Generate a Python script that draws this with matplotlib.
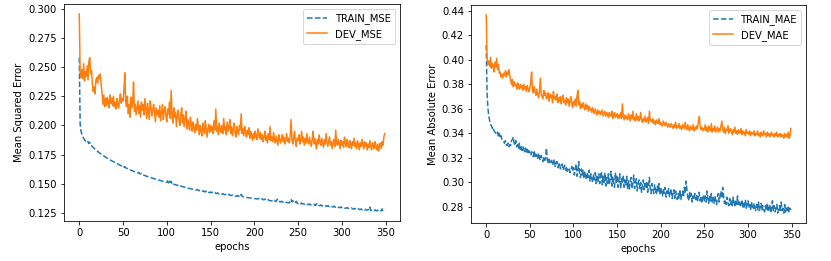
import numpy as np
import matplotlib
matplotlib.use("Agg")
import matplotlib.pyplot as plt

train_mse = [
    .2580, .2010, .1950, .1925, .1905, .1890, .1878, .1868, .1860, .1852,
    .1862, .1845, .1855, .1832, .1826, .1818, .1810, .1804, .1797, .1790,
    .1782, .1778, .1771, .1766, .1760, .1754, .1750, .1744, .1740, .1735,
    .1728, .1724, .1719, .1714, .1710, .1705, .1701, .1697, .1692, .1688,
    .1684, .1680, .1676, .1672, .1668, .1665, .1661, .1657, .1654, .1650,
    .1656, .1644, .1648, .1636, .1634, .1630, .1627, .1623, .1620, .1617,
    .1613, .1610, .1607, .1604, .1601, .1598, .1595, .1592, .1598, .1587,
    .1584, .1590, .1578, .1576, .1573, .1570, .1567, .1565, .1562, .1560,
    .1557, .1555, .1552, .1550, .1547, .1545, .1543, .1540, .1538, .1536,
    .1534, .1531, .1529, .1527, .1525, .1522, .1520, .1518, .1516, .1514,
    .1512, .1525, .1508, .1530, .1512, .1520, .1500, .1508, .1496, .1494,
    .1492, .1490, .1488, .1486, .1484, .1490, .1480, .1478, .1476, .1474,
    .1472, .1470, .1468, .1466, .1464, .1462, .1460, .1458, .1456, .1455,
    .1453, .1451, .1449, .1447, .1446, .1452, .1443, .1441, .1446, .1438,
    .1436, .1435, .1440, .1432, .1431, .1437, .1428, .1433, .1426, .1425,
    .1430, .1423, .1428, .1421, .1420, .1426, .1418, .1417, .1422, .1415,
    .1414, .1419, .1412, .1411, .1416, .1410, .1408, .1407, .1413, .1405,
    .1404, .1410, .1402, .1401, .1400, .1406, .1398, .1397, .1396, .1395,
    .1394, .1400, .1392, .1398, .1390, .1410, .1395, .1388, .1386, .1385,
    .1384, .1383, .1382, .1381, .1380, .1379, .1378, .1377, .1376, .1375,
    .1374, .1373, .1372, .1371, .1370, .1376, .1368, .1367, .1366, .1372,
    .1364, .1363, .1370, .1361, .1360, .1359, .1365, .1357, .1356, .1355,
    .1354, .1360, .1352, .1358, .1350, .1349, .1365, .1371, .1355, .1346,
    .1345, .1351, .1344, .1343, .1342, .1348, .1341, .1340, .1339, .1338,
    .1337, .1350, .1368, .1345, .1355, .1340, .1334, .1343, .1350, .1332,
    .1331, .1338, .1330, .1329, .1336, .1328, .1327, .1326, .1333, .1325,
    .1324, .1323, .1322, .1328, .1321, .1320, .1319, .1318, .1325, .1317,
    .1316, .1330, .1315, .1322, .1314, .1313, .1320, .1312, .1311, .1310,
    .1309, .1316, .1308, .1307, .1314, .1306, .1305, .1312, .1304, .1303,
    .1302, .1310, .1301, .1300, .1299, .1306, .1298, .1297, .1296, .1303,
    .1295, .1294, .1300, .1293, .1292, .1291, .1297, .1290, .1289, .1288,
    .1287, .1294, .1286, .1285, .1284, .1290, .1283, .1282, .1281, .1287,
    .1280, .1279, .1285, .1278, .1277, .1283, .1276, .1282, .1276, .1275,
    .1281, .1274, .1300, .1273, .1272, .1279, .1271, .1270, .1276, .1270,
    .1269, .1275, .1268, .1268, .1274, .1267, .1285, .1266, .1272, .1280,
]

dev_mse = [
    .2955, .2450, .2410, .2480, .2400, .2530, .2380, .2460, .2420, .2510,
    .2390, .2550, .2580, .2440, .2470, .2350, .2290, .2330, .2270, .2390,
    .2410, .2360, .2430, .2400, .2440, .2350, .2280, .2180, .2260, .2160,
    .2230, .2170, .2240, .2210, .2150, .2260, .2190, .2230, .2170, .2250,
    .2160, .2200, .2140, .2230, .2180, .2150, .2220, .2270, .2190, .2230,
    .2210, .2300, .2450, .2200, .2160, .2250, .2100, .2180, .2070, .2240,
    .2150, .2200, .2370, .2120, .2180, .2090, .2150, .2210, .2100, .2170,
    .2070, .2200, .2130, .2180, .2090, .2230, .2150, .2060, .2190, .2120,
    .2050, .2210, .2160, .2080, .2140, .2180, .2100, .2030, .2150, .2090,
    .2130, .2070, .2170, .2040, .2110, .2180, .2050, .2120, .2160, .2080,
    .2030, .2140, .2100, .2200, .2060, .2300, .2090, .2020, .2150, .2070,
    .2110, .1990, .2080, .2130, .2040, .2000, .2100, .2150, .2020, .2090,
    .1990, .2060, .2120, .1970, .2050, .2010, .1960, .2070, .2000, .1950,
    .2030, .1980, .1940, .2010, .1960, .2060, .1990, .1920, .2000, .1950,
    .1910, .2020, .1970, .1930, .2040, .1980, .1900, .1960, .2010, .1940,
    .2000, .1950, .1990, .1930, .2040, .1960, .2140, .1950, .1990, .1920,
    .2020, .1970, .1940, .2000, .1930, .2060, .1960, .1990, .1920, .2030,
    .1950, .1980, .2050, .1930, .1990, .1910, .1970, .2020, .1940, .1900,
    .1990, .1950, .1920, .2000, .1960, .2100, .1930, .1970, .1910, .1990,
    .1940, .1900, .1960, .1920, .1980, .1890, .1950, .1910, .1870, .1930,
    .1890, .1950, .1910, .1880, .1970, .1920, .1890, .1940, .1880, .1920,
    .1860, .1900, .1950, .1870, .1910, .1850, .1930, .1880, .1990, .1870,
    .1900, .1860, .1940, .1880, .1850, .1910, .1870, .1830, .1920, .1880,
    .1850, .1890, .1920, .1860, .1900, .1840, .1880, .1930, .1860, .1890,
    .1850, .1910, .2050, .1880, .1840, .1900, .1950, .1860, .1820, .1890,
    .1870, .1920, .1840, .1880, .1950, .1860, .1900, .1830, .1890, .1850,
    .1930, .1870, .1840, .1900, .1860, .1820, .1880, .1950, .1840, .1890,
    .1850, .1800, .1880, .1840, .1920, .1860, .1830, .1890, .1850, .1810,
    .1880, .1840, .1930, .1860, .1820, .1870, .1900, .1830, .1860, .1800,
    .1850, .1880, .1820, .1960, .1850, .1830, .1880, .1840, .1800, .1870,
    .1830, .1860, .1810, .1900, .1850, .1820, .1880, .1840, .1810, .1870,
    .1840, .1800, .1860, .1830, .1890, .1820, .1850, .1800, .1870, .1830,
    .1790, .1850, .1820, .1880, .1830, .1800, .1860, .1820, .1850, .1790,
    .1840, .1810, .1870, .1820, .1790, .1850, .1830, .1800, .1860, .1820,
    .1790, .1840, .1780, .1820, .1850, .1800, .1860, .1830, .1900, .1930,
]

train_mae = [
    .4120, .3720, .3600, .3540, .3500, .3470, .3460, .3440, .3450, .3420,
    .3410, .3400, .3390, .3410, .3370, .3400, .3360, .3380, .3350, .3340,
    .3330, .3320, .3340, .3310, .3300, .3320, .3290, .3310, .3300, .3340,
    .3350, .3370, .3320, .3300, .3340, .3290, .3310, .3280, .3320, .3270,
    .3300, .3260, .3290, .3270, .3250, .3280, .3240, .3270, .3230, .3260,
    .3240, .3220, .3250, .3230, .3210, .3260, .3200, .3230, .3220, .3190,
    .3240, .3200, .3180, .3220, .3190, .3170, .3210, .3180, .3200, .3280,
    .3180, .3160, .3190, .3150, .3170, .3180, .3140, .3160, .3190, .3130,
    .3150, .3170, .3120, .3140, .3160, .3110, .3130, .3150, .3100, .3120,
    .3140, .3100, .3130, .3090, .3110, .3120, .3080, .3100, .3130, .3090,
    .3120, .3060, .3100, .3150, .3050, .3090, .3170, .3070, .3040, .3110,
    .3060, .3100, .3030, .3090, .3050, .3020, .3080, .3040, .3100, .3010,
    .3070, .3030, .3000, .3060, .3020, .3080, .2990, .3050, .3010, .3070,
    .2990, .3040, .3090, .2980, .3050, .3000, .3080, .2970, .3040, .2990,
    .3070, .2980, .3030, .3090, .2970, .3050, .2990, .2960, .3080, .3000,
    .3050, .2960, .3020, .3070, .2950, .3030, .2990, .3060, .2960, .3020,
    .2980, .3050, .2950, .3020, .2940, .3010, .3040, .2950, .2990, .3060,
    .2950, .3000, .3030, .2930, .2990, .3020, .2950, .3000, .2920, .2980,
    .3020, .2940, .2990, .2950, .3010, .2920, .2970, .3040, .2940, .2910,
    .2990, .2950, .2910, .2980, .2940, .2900, .2970, .2930, .2990, .2900,
    .2960, .2920, .2890, .2950, .2910, .2960, .2880, .2930, .2900, .2950,
    .2880, .2920, .2950, .2870, .2910, .2940, .2870, .2930, .2890, .2860,
    .2910, .2870, .2940, .2860, .2900, .2930, .2880, .2960, .2910, .3010,
    .2940, .2880, .2850, .2920, .2870, .2910, .2840, .2890, .2860, .2910,
    .2860, .2900, .2840, .2890, .2920, .2850, .2890, .2830, .2870, .2900,
    .2850, .2890, .2840, .2930, .2870, .2830, .2890, .2850, .2910, .2840,
    .2880, .2830, .2890, .2840, .2820, .2880, .2910, .2840, .2890, .2930,
    .2870, .2960, .2890, .2830, .2860, .2820, .2880, .2830, .2810, .2870,
    .2820, .2860, .2810, .2880, .2830, .2800, .2860, .2820, .2890, .2810,
    .2840, .2800, .2830, .2860, .2790, .2830, .2800, .2860, .2790, .2820,
    .2850, .2790, .2820, .2780, .2840, .2800, .2780, .2830, .2790, .2770,
    .2820, .2780, .2840, .2770, .2800, .2830, .2770, .2810, .2780, .2760,
    .2810, .2770, .2830, .2760, .2790, .2820, .2750, .2790, .2850, .2770,
    .2810, .2760, .2790, .2820, .2750, .2780, .2810, .2760, .2840, .2770,
    .2790, .2750, .2820, .2760, .2800, .2770, .2810, .2760, .2790, .2775,
]

dev_mae = [
    .4365, .4010, .3960, .3990, .3945, .4020, .3930, .3970, .3950, .3900,
    .3980, .3940, .4010, .3920, .3960, .3890, .3900, .3860, .3880, .3850,
    .3890, .3870, .3910, .3860, .3900, .3880, .3920, .3870, .3830, .3800,
    .3840, .3780, .3820, .3790, .3800, .3760, .3810, .3780, .3760, .3800,
    .3770, .3790, .3750, .3800, .3760, .3780, .3740, .3790, .3760, .3740,
    .3770, .3820, .3900, .3750, .3730, .3780, .3740, .3710, .3760, .3720,
    .3690, .3740, .3850, .3720, .3700, .3680, .3750, .3710, .3730, .3680,
    .3700, .3730, .3660, .3720, .3690, .3710, .3650, .3740, .3680, .3700,
    .3670, .3720, .3650, .3690, .3660, .3700, .3640, .3680, .3710, .3650,
    .3670, .3630, .3690, .3650, .3680, .3620, .3660, .3700, .3640, .3610,
    .3660, .3630, .3680, .3620, .3700, .3750, .3630, .3660, .3600, .3640,
    .3610, .3650, .3620, .3590, .3640, .3600, .3630, .3580, .3620, .3590,
    .3600, .3570, .3610, .3580, .3560, .3600, .3570, .3550, .3590, .3560,
    .3580, .3550, .3570, .3590, .3540, .3560, .3580, .3540, .3570, .3550,
    .3530, .3570, .3550, .3540, .3580, .3520, .3550, .3570, .3530, .3540,
    .3560, .3520, .3550, .3530, .3570, .3520, .3640, .3540, .3510, .3550,
    .3520, .3540, .3510, .3560, .3530, .3500, .3550, .3520, .3580, .3510,
    .3530, .3500, .3560, .3510, .3540, .3500, .3520, .3570, .3510, .3490,
    .3520, .3500, .3540, .3490, .3510, .3530, .3480, .3580, .3500, .3510,
    .3490, .3520, .3480, .3500, .3470, .3510, .3490, .3480, .3520, .3470,
    .3490, .3470, .3460, .3500, .3480, .3460, .3490, .3470, .3450, .3480,
    .3460, .3450, .3480, .3460, .3440, .3470, .3450, .3490, .3440, .3460,
    .3450, .3480, .3440, .3460, .3430, .3470, .3450, .3440, .3490, .3450,
    .3430, .3470, .3440, .3420, .3460, .3440, .3430, .3470, .3420, .3450,
    .3430, .3460, .3440, .3490, .3540, .3470, .3430, .3450, .3420, .3440,
    .3430, .3470, .3420, .3450, .3410, .3460, .3430, .3420, .3480, .3410,
    .3440, .3420, .3460, .3410, .3430, .3450, .3410, .3440, .3420, .3460,
    .3500, .3430, .3410, .3450, .3400, .3430, .3420, .3460, .3400, .3420,
    .3440, .3410, .3390, .3430, .3410, .3450, .3400, .3420, .3390, .3430,
    .3410, .3400, .3440, .3390, .3420, .3400, .3410, .3380, .3430, .3400,
    .3410, .3390, .3420, .3380, .3410, .3400, .3390, .3420, .3380, .3400,
    .3390, .3420, .3380, .3400, .3370, .3410, .3390, .3380, .3420, .3390,
    .3400, .3370, .3410, .3380, .3400, .3370, .3390, .3410, .3380, .3390,
    .3370, .3400, .3380, .3410, .3370, .3390, .3380, .3400, .3370, .3390,
    .3380, .3360, .3400, .3370, .3390, .3370, .3410, .3360, .3380, .3440,
]

epochs = np.arange(len(train_mse))

fig = plt.figure(figsize=(831 / 72, 261 / 72), dpi=72)
ax1 = fig.add_axes([64 / 831, 1 - 221 / 261, 336 / 831, 217 / 261])
ax2 = fig.add_axes([471 / 831, 1 - 223 / 261, 335 / 831, 218 / 261])

ax1.plot(epochs, train_mse, '--', color='C0', label='TRAIN_MSE')
ax1.plot(epochs, dev_mse, '-', color='C1', label='DEV_MSE')
ax1.set_xlabel('epochs')
ax1.set_ylabel('Mean Squared Error')
ax1.legend(loc='upper right')

ax2.plot(epochs, train_mae, '--', color='C0', label='TRAIN_MAE')
ax2.plot(epochs, dev_mae, '-', color='C1', label='DEV_MAE')
ax2.set_xlabel('epochs')
ax2.set_ylabel('Mean Absolute Error')
ax2.legend(loc='upper right')

fig.savefig('out.png', dpi=72)
